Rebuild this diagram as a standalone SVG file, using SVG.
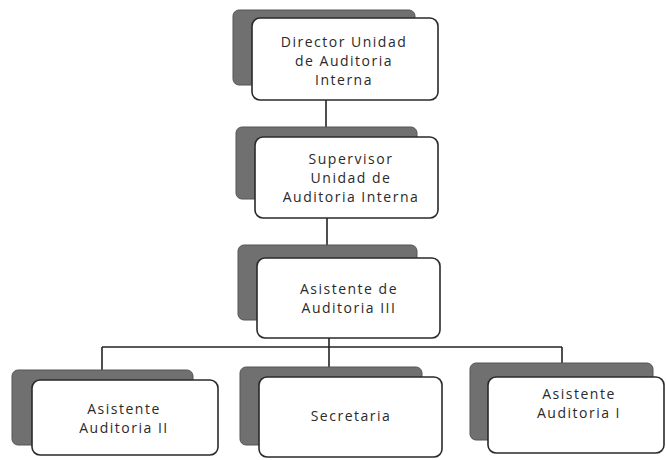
<svg xmlns="http://www.w3.org/2000/svg" width="666" height="460" viewBox="0 0 666 460">
<style>
.sh{fill:#707070;stroke:#555;stroke-width:1}
.bx{fill:#fff;stroke:#2a2a2a;stroke-width:1.6}
.t{font-family:"Open Sans","Liberation Sans",sans-serif;font-size:14px;fill:#2a2a2a;text-anchor:middle;letter-spacing:1.5px}
.c{stroke:#222;stroke-width:1.6;fill:none}
</style>
<rect width="666" height="460" fill="#fff"/>
<g id="connectors">
<line class="c" x1="326" y1="100" x2="326" y2="137"/>
<line class="c" x1="327" y1="218" x2="327" y2="258"/>
<line class="c" x1="329" y1="338" x2="329" y2="377"/>
<line class="c" x1="102" y1="347" x2="562" y2="347"/>
<line class="c" x1="102" y1="347" x2="102" y2="380"/>
<line class="c" x1="562" y1="347" x2="562" y2="377"/>
</g>
<g id="director">
<rect class="sh" x="233" y="10" width="182" height="75" rx="6"/>
<rect class="bx" x="252" y="18" width="186" height="82" rx="8"/>
<text class="t" x="344" y="47">Director Unidad</text>
<text class="t" x="344" y="66">de Auditoria</text>
<text class="t" x="344" y="85">Interna</text>
</g>
<g id="supervisor">
<rect class="sh" x="236" y="127" width="181" height="72" rx="6"/>
<rect class="bx" x="255" y="137" width="183" height="81" rx="8"/>
<text class="t" x="351" y="164">Supervisor</text>
<text class="t" x="351" y="183">Unidad de</text>
<text class="t" x="351" y="202">Auditoria Interna</text>
</g>
<g id="asistente3">
<rect class="sh" x="238" y="245" width="179" height="75" rx="6"/>
<rect class="bx" x="257" y="258" width="183" height="80" rx="8"/>
<text class="t" x="349" y="294">Asistente de</text>
<text class="t" x="349" y="313">Auditoria III</text>
</g>
<g id="asistente2">
<rect class="sh" x="12" y="370" width="181" height="75" rx="6"/>
<rect class="bx" x="32" y="380" width="186" height="75" rx="8"/>
<text class="t" x="124" y="414">Asistente</text>
<text class="t" x="124" y="433">Auditoria II</text>
</g>
<g id="secretaria">
<rect class="sh" x="240" y="367" width="182" height="78" rx="6"/>
<rect class="bx" x="259" y="377" width="183" height="80" rx="8"/>
<text class="t" x="351" y="421">Secretaria</text>
</g>
<g id="asistente1">
<rect class="sh" x="470" y="363" width="183" height="77" rx="6"/>
<rect class="bx" x="488" y="377" width="176" height="76" rx="8"/>
<text class="t" x="579" y="399">Asistente</text>
<text class="t" x="579" y="418">Auditoria I</text>
</g>
</svg>
